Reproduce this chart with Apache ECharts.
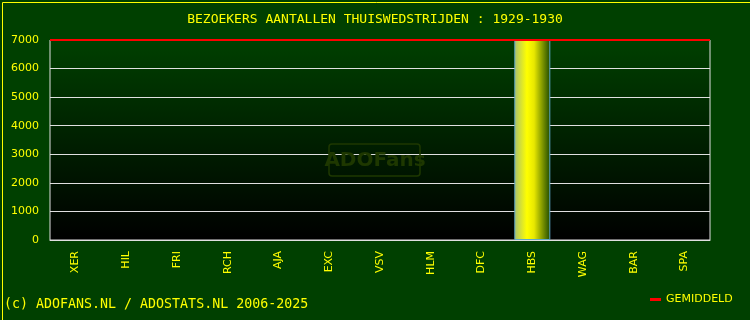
<!DOCTYPE html>
<html><head><meta charset="utf-8">
<script src="https://cdn.jsdelivr.net/npm/echarts@6/dist/echarts.min.js"></script>
<style>html,body{margin:0;padding:0;background:#004000;}#c{width:750px;height:320px;}</style>
</head><body><div id="c"></div>
<script>
const titleText = 'BEZOEKERS AANTALLEN THUISWEDSTRIJDEN : 1929-1930';
const footerText = '(c) ADOFANS.NL / ADOSTATS.NL 2006-2025';
const categories = ['XER','HIL','FRI','RCH','AJA','EXC','VSV','HLM','DFC','HBS','WAG','BAR','SPA'];
const visitors = [null,null,null,null,null,null,null,null,null,7000,null,null,null];
const yTicks = {min:0, max:7000, interval:1000};
const known = visitors.filter(v => v != null);
const average = known.reduce((a,b)=>a+b,0)/known.length;

const chart = echarts.init(document.getElementById('c'), null, {renderer:'canvas'});
const YEL = '#ffff00';
const WM = '#1e3800';
chart.setOption({
  backgroundColor:'#004000',
  animation:false,
  title:{text:titleText, left:'center', top:8,
    textStyle:{color:YEL, fontFamily:'DejaVu Sans Mono', fontWeight:'normal', fontSize:13}},
  legend:{left:645, top:289, data:[{name:'GEMIDDELD', icon:'rect'}], itemWidth:11, itemHeight:3, itemGap:8,
    textStyle:{color:YEL, fontFamily:'DejaVu Sans', fontSize:11}},
  grid:{left:50, right:40, top:40, bottom:80, show:true, borderColor:'#e0e0e0', borderWidth:1,
    backgroundColor:new echarts.graphic.LinearGradient(0,0,0,1,[{offset:0,color:'#004000'},{offset:1,color:'#000000'}])},
  xAxis:{type:'category', data:categories,
    axisLine:{show:true, lineStyle:{color:'#e0e0e0'}}, axisTick:{show:false},
    axisLabel:{rotate:90, color:YEL, fontFamily:'DejaVu Sans', fontSize:11, margin:11, interval:0}},
  yAxis:{type:'value', min:yTicks.min, max:yTicks.max, interval:yTicks.interval,
    axisLine:{show:false}, axisTick:{show:false},
    axisLabel:{color:YEL, fontFamily:'DejaVu Sans', fontSize:11, margin:11, formatter:v => String(v)},
    splitLine:{lineStyle:{color:'#e0e0e0', width:1}}},
  graphic:[
    {type:'rect', left:0, top:0, z:100, silent:true, shape:{x:0.5,y:0.5,width:749,height:319},
      style:{fill:'none', stroke:YEL, lineWidth:1}},
    {type:'text', left:4, top:298, style:{text:footerText, fill:YEL, font:'13.3px "DejaVu Sans Mono"'}},
    {type:'rect', shape:{x:329,y:144,width:91,height:32,r:3}, z:5, silent:true,
      style:{fill:'none', stroke:WM, lineWidth:1.5}},
    {type:'text', x:375, y:161, z:5, silent:true,
      style:{text:'ADOFans', fill:WM, font:'bold 20px "DejaVu Sans"', textAlign:'center', textVerticalAlign:'middle'}}
  ],
  series:[
    {name:'BEZOEKERS', type:'bar', data:visitors, barWidth:36, z:3,
      itemStyle:{borderColor:'#60a8c8', borderWidth:1,
        color:new echarts.graphic.LinearGradient(0,0,1,0,[
          {offset:0,color:'#a8c070'},{offset:0.35,color:'#ffff00'},{offset:0.55,color:'#e8e800'},{offset:1,color:'#1e4a00'}])}},
    {name:'GEMIDDELD', type:'line', data:[], color:'#ff0000', z:4,
      markLine:{silent:true, symbol:'none', label:{show:false},
        lineStyle:{color:'#ff0000', width:2, type:'solid'}, data:[{yAxis:average}]}}
  ]
});
</script></body></html>
